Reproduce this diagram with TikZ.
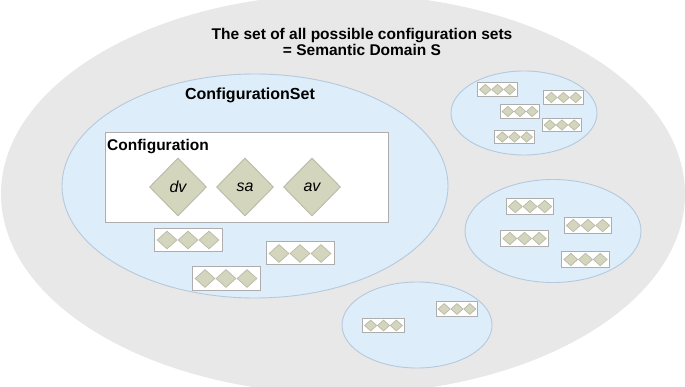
\documentclass[tikz,border=0pt]{standalone}
\usepackage{fontspec}
\setmainfont{Liberation Sans}
\usepackage{xcolor}
\usetikzlibrary{shapes.geometric}
\definecolor{domaingrey}{HTML}{E8E8E8}
\definecolor{setblue}{HTML}{DDEEFA}
\definecolor{setline}{HTML}{B6C8DC}
\definecolor{framegrey}{HTML}{ADADAD}
\definecolor{featfill}{HTML}{D4D5BD}
\definecolor{featline}{HTML}{B9BAA8}
\tikzset{
  semdomain/.style={ellipse, fill=domaingrey, inner sep=0pt},
  cfgset/.style={ellipse, draw=setline, fill=setblue, line width=0.9pt, inner sep=0pt},
  cfgframe/.style={rectangle, draw=framegrey, fill=white, line width=1pt, inner sep=0pt},
  feature/.style={diamond, draw=featline, fill=featfill, line width=0.9pt, inner sep=0pt, minimum width=57pt, minimum height=58pt, font=\fontsize{16}{16}\selectfont\itshape},
  minibox/.style={rectangle, draw=framegrey, fill=white, line width=1pt, inner sep=0pt, minimum width=68pt, minimum height=23pt, transform shape},
  minidot/.style={diamond, draw=featline, fill=featfill, line width=0.7pt, inner sep=0pt, minimum width=20pt, minimum height=18pt, transform shape},
  cfgrow/.pic={
    \node[minibox] (-box) at (0,0) {};
    \node[minidot] (-a) at (-21,0) {};
    \node[minidot] (-b) at (0,0) {};
    \node[minidot] (-c) at (21,0) {};
  },
  heading/.style={font=\fontsize{15.5}{16}\selectfont\bfseries, align=center, inner sep=0pt}
}

\begin{document}
\begin{tikzpicture}[x=1pt, y=-1pt]
\useasboundingbox (0,0) rectangle (685,387);
\clip (0,0) rectangle (685,387);

% Semantic domain
\node (S) [semdomain, minimum width=684pt, minimum height=400pt] at (343,194) {};
\node (Slabel) [heading] at (362,41.5) {The set of all possible configuration sets\\= Semantic Domain S};

% Configuration sets
\node (cset) [cfgset, minimum width=386pt, minimum height=224pt] at (255,186) {};
\node (csetlabel) [heading, font=\fontsize{16}{16}\selectfont\bfseries] at (250,95) {ConfigurationSet};
\node (setA) [cfgset, minimum width=146pt, minimum height=84pt] at (524,113) {};
\node (setB) [cfgset, minimum width=176pt, minimum height=103pt] at (553,231) {};
\node (setC) [cfgset, minimum width=150pt, minimum height=86pt] at (417,325) {};

% Configuration
\node (cfg) [cfgframe, minimum width=283pt, minimum height=90pt] at (246.5,178) {};
\node (cfglabel) [anchor=west, font=\fontsize{15.5}{16}\selectfont\bfseries, inner sep=0pt] at (107,146.5) {Configuration};
\node (dv) [feature] at (178,187) {dv};
\node (sa) [feature] at (245,187) {sa};
\node (av) [feature] at (312,187) {av};

% Other configurations
\pic (c1) at (188,240) {cfgrow};
\pic (c2) at (300,253.5) {cfgrow};
\pic (c3) at (226,278.5) {cfgrow};

\pic[scale=0.58] (a1) at (497.5,89.5) {cfgrow};
\pic[scale=0.58] (a2) at (563.5,97.5) {cfgrow};
\pic[scale=0.58] (a3) at (520,111.5) {cfgrow};
\pic[scale=0.58] (a4) at (562,125) {cfgrow};
\pic[scale=0.58] (a5) at (514.5,137) {cfgrow};

\pic[scale=0.7] (b1) at (530,206.5) {cfgrow};
\pic[scale=0.7] (b2) at (588,225.5) {cfgrow};
\pic[scale=0.7] (b3) at (524.5,238.5) {cfgrow};
\pic[scale=0.7] (b4) at (585.5,259.5) {cfgrow};

\pic[scale=0.61] (d1) at (383.5,325.5) {cfgrow};
\pic[scale=0.61] (d2) at (457,309) {cfgrow};

\end{tikzpicture}
\end{document}
